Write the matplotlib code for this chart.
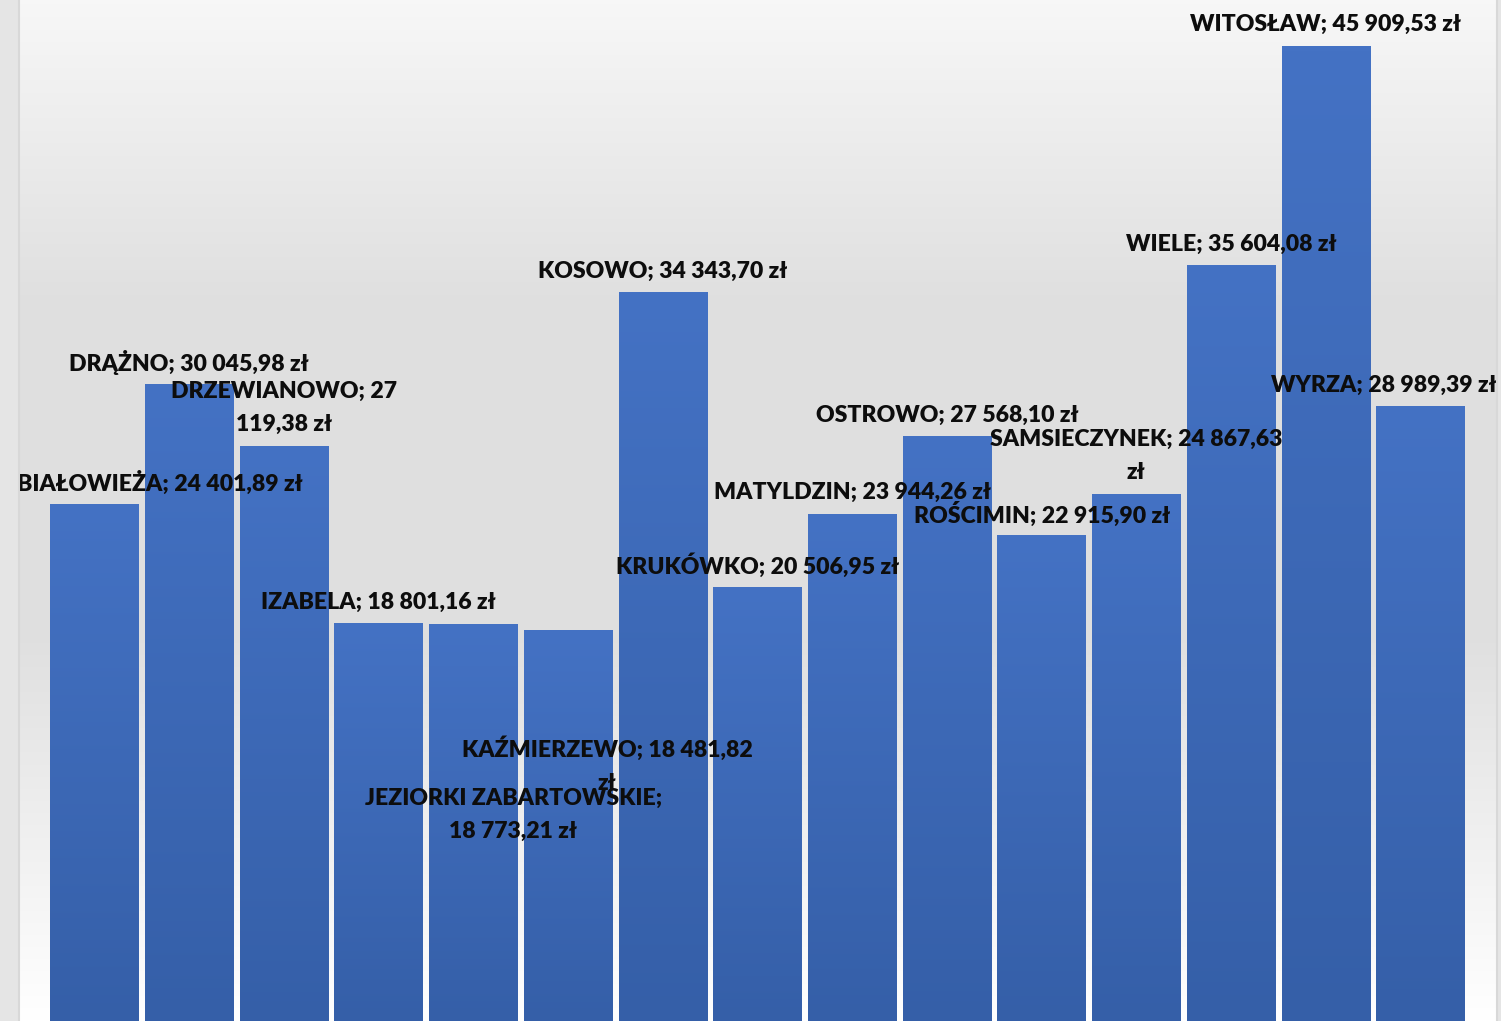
import numpy as np
import matplotlib
matplotlib.use("Agg")
import matplotlib.pyplot as plt
from matplotlib.colors import LinearSegmentedColormap

# ---- data ----
villages = ["BIAŁOWIEŻA", "DRĄŻNO", "DRZEWIANOWO", "IZABELA", "JEZIORKI ZABARTOWSKIE",
            "KAŹMIERZEWO", "KOSOWO", "KRUKÓWKO", "MATYLDZIN", "OSTROWO",
            "ROŚCIMIN", "SAMSIECZYNEK", "WIELE", "WITOSŁAW", "WYRZA"]
amounts = [24401.89, 30045.98, 27119.38, 18801.16, 18773.21,
           18481.82, 34343.70, 20506.95, 23944.26, 27568.10,
           22915.90, 24867.63, 35604.08, 45909.53, 28989.39]
label_texts = ["BIAŁOWIEŻA; 24 401,89 zł", "DRĄŻNO; 30 045,98 zł", "DRZEWIANOWO; 27\n119,38 zł",
               "IZABELA; 18 801,16 zł", "JEZIORKI ZABARTOWSKIE;\n18 773,21 zł",
               "KAŹMIERZEWO; 18 481,82\nzł", "KOSOWO; 34 343,70 zł", "KRUKÓWKO; 20 506,95 zł",
               "MATYLDZIN; 23 944,26 zł", "OSTROWO; 27 568,10 zł", "ROŚCIMIN; 22 915,90 zł",
               "SAMSIECZYNEK; 24 867,63\nzł", "WIELE; 35 604,08 zł", "WITOSŁAW; 45 909,53 zł",
               "WYRZA; 28 989,39 zł"]

# ---- label layout (bar-unit x shift, value-unit y centre) ----
label_dx = [0.69, 0, 0, 0, 0.42, 0.41, 0, 0, 0, 0, 0, 0, 0, 0, -0.385]
label_y = [25380, 31020, 28900, 19790, 9780, 12130, 35340, 21480, 24960,
           28575, 23925, 26640, 36610, 46945, 29985]

W, H = 1501, 1021
fig = plt.figure(figsize=(W / 100, H / 100), dpi=100)
fig.patch.set_facecolor("#e5e5e5")

left, right = 19, 1496
ax = fig.add_axes([left / W, 0, (right - left) / W, 1])
ax.axis("off")

# plot-area background gradient
stops = np.array([[0.0, 0.97], [0.3, 0.875], [0.62, 0.875], [1.0, 1.0]])
yy = np.linspace(0, 1, 512)
g = np.interp(yy, stops[:, 0], stops[:, 1])
bg = np.repeat(np.stack([g, g, g], axis=-1)[:, None, :], 2, axis=1)
ax.imshow(bg, extent=[0, 1, 0, 1], transform=ax.transAxes, aspect="auto",
          origin="upper", zorder=0, interpolation="bilinear")

# bars
x = np.arange(len(villages))
bars = ax.bar(x, amounts, width=0.935, color="#3d69b8", zorder=2, linewidth=0)
cmap = LinearSegmentedColormap.from_list("barg", ["#355fa8", "#4472c4"])
grad = np.linspace(0, 1, 256)[:, None]
for b in bars:
    x0, w, h = b.get_x(), b.get_width(), b.get_height()
    im = ax.imshow(grad, extent=[x0, x0 + w, 0, h], origin="lower", cmap=cmap,
                   aspect="auto", zorder=3, interpolation="bilinear")
    im.set_clip_path(b)
ax.set_xlim(-0.797, 14.797)
ax.set_ylim(103, 48072)

for i, t in enumerate(label_texts):
    ax.text(x[i] + label_dx[i], label_y[i], t, ha="center", va="center",
            fontsize=16.6, fontweight="heavy", family=["Lato", "DejaVu Sans"],
            color="#0d0d0d", zorder=5, linespacing=1.7, multialignment="center")

# frame lines at edges
fig.add_artist(plt.Line2D([18.5 / W, 18.5 / W], [0, 1], color="#d8d8d8", lw=1.5))
fig.add_artist(plt.Line2D([1496.5 / W, 1496.5 / W], [0, 1], color="#d8d8d8", lw=1.5))

fig.savefig("out.png", dpi=100, facecolor=fig.get_facecolor())
